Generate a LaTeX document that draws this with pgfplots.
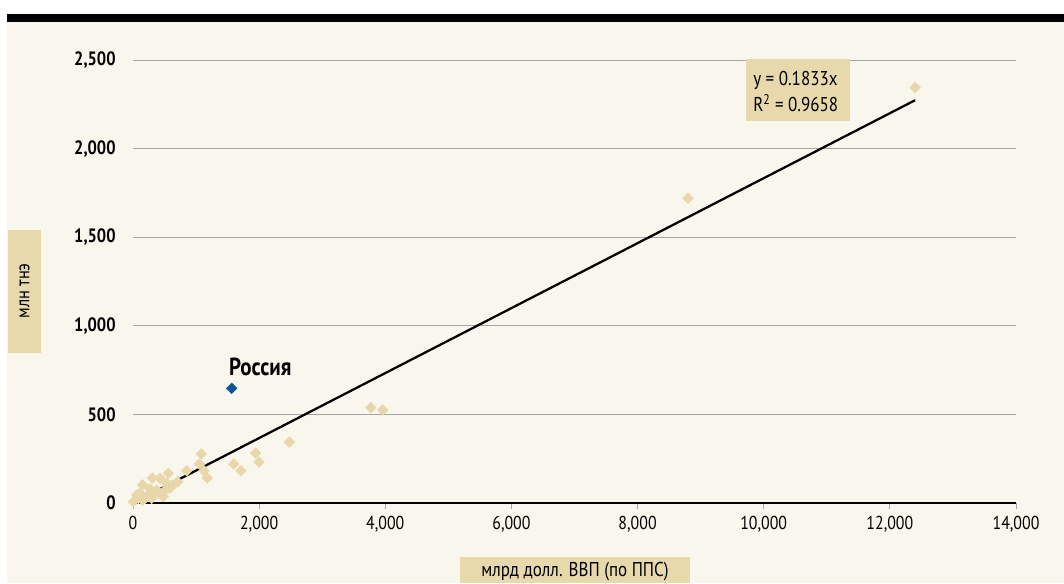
\documentclass[border=0pt]{standalone}
\usepackage{fontspec}
\setmainfont{PT Sans}[FakeStretch=0.85]
\usepackage{pgfplots}
\pgfplotsset{compat=1.18}
\definecolor{bg}{RGB}{249,246,237}
\definecolor{tanbox}{RGB}{232,217,172}
\definecolor{mk}{RGB}{231,215,170}
\definecolor{ru}{RGB}{14,84,152}
\definecolor{gridc}{RGB}{165,165,165}

\pgfplotstableread{
x y
12400 2345
8800 1720
3770 538
3960 525
2480 344
1945 282
1998 231
1596 220
1712 182
1083 277
1052 220
1126 182
1178 141
851 182
708 120
560 168
428 139
306 141
153 102
534 111
587 83
455 45
338 55
243 45
111 55
84 26
5 7
190 26
296 26
375 73
507 73
481 36
58 45
400 60
270 80
620 100
150 15
}\others

\begin{document}
\begin{tikzpicture}[x=0.75pt,y=0.75pt]
\useasboundingbox (0,0) rectangle (1064,583);
\fill[white] (0,0) rectangle (1064,583);
\fill[bg] (7,0) rectangle (1064,561);
\fill[black] (7,561) rectangle (1064,569);
\fill[tanbox] (8,230) rectangle (41,353);
\node[rotate=90,font=\fontsize{14.5}{16}\selectfont, inner sep=0pt] at (24.5,292) {млн тнэ};
\fill[tanbox] (460,0) rectangle (690,26);
\node[font=\fontsize{15}{17}\selectfont, inner sep=0pt] at (575,11) {млрд долл. ВВП (по ППС)};
\begin{axis}[
  at={(99.75pt,60pt)}, anchor=south west,
  scale only axis, width=662.25pt, height=332.25pt,
  xmin=0, xmax=14000, ymin=0, ymax=2500,
  xtick={0,2000,...,14000}, ytick={0,500,...,2500},
  axis x line*=bottom, axis y line*=left,
  x axis line style={black, line width=0.9pt},
  y axis line style={draw=none},
  ymajorgrids, grid style={gridc, line width=0.7pt},
  tick align=outside,
  xtick style={gridc, line width=0.7pt},
  major tick length=4.5pt,
  ytick style={draw=none},
  /pgf/number format/.cd, 1000 sep={,}, assume math mode=true,
  /pgfplots/.cd,
  xticklabel style={font=\fontsize{14}{16}\selectfont, yshift=-2pt},
  yticklabel style={font=\fontsize{14.5}{16}\selectfont\bfseries, xshift=-5pt},
  scaled ticks=false,
  clip=false,
]
\addplot[black, line width=1.7pt] coordinates {(250,45.8) (12400,2273)};
\addplot[only marks, color=mk, mark=square*, mark size=2.8pt, mark options={rotate=45}] table {\others};
\addplot[only marks, color=ru, mark=square*, mark size=2.8pt, mark options={rotate=45}] coordinates {(1565,647)};
\node[anchor=west, font=\fontsize{18.5}{20}\selectfont\bfseries, inner sep=0pt] at (axis cs:1520,767) {Россия};
\end{axis}
\fill[tanbox] (746,462) rectangle (850,524);
\node[anchor=west, font=\fontsize{15}{17}\selectfont, inner sep=0pt] at (753,503) {y = 0.1833x};
\node[anchor=west, font=\fontsize{15}{17}\selectfont, inner sep=0pt] at (753,480) {R\textsuperscript{2} = 0.9658};
\end{tikzpicture}
\end{document}
